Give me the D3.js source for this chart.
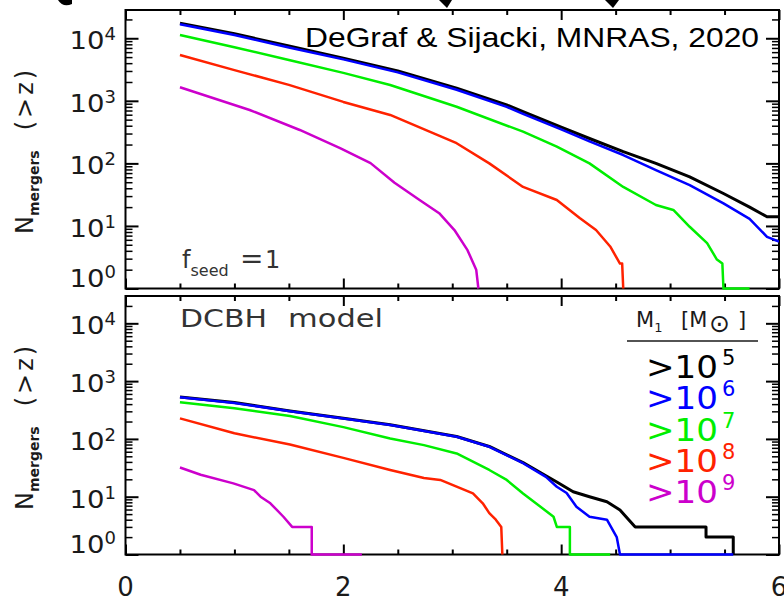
<!DOCTYPE html>
<html>
<head>
<meta charset="utf-8">
<script src="https://cdn.jsdelivr.net/npm/d3@7"></script>
<style>
body { margin: 0; background: #fff; }
svg { display: block; font-family: "DejaVu Sans", sans-serif; }
</style>
</head>
<body>
<svg id="chart" width="784" height="601"></svg>
<script>
// mass thresholds (log10 M1) and their colours
var massExp = ["5", "6", "7", "8", "9"];
var massColors = ["#000000", "#0000ff", "#00ee00", "#ff2200", "#cc00cc"];

// x axis (redshift)
var zTicksMajor = [0, 2, 4, 6];
var zTicksMinor = [0.5, 1, 1.5, 2.5, 3, 3.5, 4.5, 5, 5.5];

// top panel, f_seed = 1 : [z, N(>z)]
var topBlack = [[0.5,17400],[1.0,11800],[1.5,7500],[2.0,4800],[2.5,3000],[3.04,1590],[3.5,860],[3.65,670],[4.0,380],[4.26,250],[4.57,154],[4.87,100],[5.18,61],[5.49,33],[5.73,20],[5.89,14],[6.0,14]];
var topBlue = [[0.5,16800],[1.0,11300],[1.5,7100],[2.0,4600],[2.5,2850],[3.04,1500],[3.5,800],[3.65,620],[4.0,350],[4.26,225],[4.57,136],[4.87,78],[5.18,45],[5.49,23],[5.73,13],[5.89,6.7],[6.0,5.6]];
var topGreen = [[0.5,11300],[1.0,7200],[1.5,4500],[2.0,2800],[2.43,1790],[3.04,805],[3.65,321],[3.96,185],[4.26,100],[4.57,42],[4.87,21.6],[5.03,18],[5.18,9.7],[5.34,5.3],[5.43,2.9],[5.48,2.5],[5.49,1],[5.73,1]];
var topRed = [[0.5,5400],[1.0,3100],[1.5,1800],[2.0,960],[2.43,594],[3.04,210],[3.34,100],[3.65,42],[3.96,26],[4.17,13.4],[4.32,8.6],[4.45,4.7],[4.54,2.5],[4.56,2.5],[4.57,1]];
var topMagenta = [[0.5,1650],[1.14,714],[1.6,342],[1.97,176],[2.25,101],[2.47,49],[2.7,26],[2.88,16],[3.02,8.6],[3.14,4.1],[3.22,2.0],[3.24,1]];

// bottom panel, DCBH model
var botBlack = [[0.5,530],[1.0,425],[1.51,305],[2.0,228],[2.43,176],[3.04,110],[3.34,74],[3.65,39],[3.86,23],[3.96,18],[4.11,12.2],[4.26,10],[4.42,8.2],[4.54,5.9],[4.62,4],[4.68,3],[5.33,3],[5.33,2],[5.58,2],[5.58,1]];
var botBlue = [[0.5,525],[1.0,420],[1.51,300],[2.0,225],[2.43,174],[3.04,109],[3.34,73],[3.65,38],[3.86,22],[3.96,14.9],[4.05,11.6],[4.14,6.7],[4.26,4.5],[4.42,4],[4.51,2],[4.54,1],[5.58,1]];
var botGreen = [[0.5,430],[1.0,340],[1.51,250],[2.0,160],[2.43,102],[2.74,78],[3.04,56],[3.34,29],[3.5,19.5],[3.65,11.4],[3.81,6.7],[3.93,4.5],[3.96,3],[4.08,3],[4.08,1],[4.45,1]];
var botRed = [[0.5,227],[1.0,125],[1.51,80],[2.0,47],[2.43,29],[2.74,21],[2.89,19.5],[3.04,14.9],[3.19,11.4],[3.28,7.7],[3.34,5.2],[3.4,4],[3.45,3],[3.46,1]];
var botMagenta = [[0.5,32],[0.69,24],[0.99,17],[1.18,13],[1.24,10],[1.33,7.7],[1.45,4.5],[1.53,3],[1.71,3],[1.71,1],[2.17,1]];

var svg = d3.select("#chart");
var x = d3.scaleLinear().domain([0, 6]).range([125.5, 779]);

var panels = [
    { top: 10, bottom: 288.5, ymax: 28300, series: [topBlack, topBlue, topGreen, topRed, topMagenta], titleStart: 234 },
    { top: 296, bottom: 554.5, ymax: 29700, series: [botBlack, botBlue, botGreen, botRed, botMagenta], titleStart: 510 }
];

function tickAxis(g, axis, transform, width) {
    g.append("g")
        .attr("transform", transform)
        .call(axis.tickFormat(""))
        .call(s => s.select(".domain").remove())
        .selectAll("line").attr("stroke-width", width);
}

panels.forEach(function(p, pi) {
    var y = d3.scaleLog().domain([1, p.ymax]).range([p.bottom, p.top]);
    var g = svg.append("g");

    var all = y.ticks();
    var major = all.filter(d => Math.abs(Math.log10(d) - Math.round(Math.log10(d))) < 1e-9);
    var minor = all.filter(d => major.indexOf(d) < 0);

    g.append("rect")
        .attr("x", x(0)).attr("y", p.top)
        .attr("width", x(6) - x(0)).attr("height", p.bottom - p.top)
        .attr("fill", "none").attr("stroke", "#000").attr("stroke-width", 2);

    tickAxis(g, d3.axisLeft(y).tickValues(major).tickSize(-13), "translate(" + x(0) + ",0)", 2);
    tickAxis(g, d3.axisLeft(y).tickValues(minor).tickSize(-7), "translate(" + x(0) + ",0)", 1.5);
    tickAxis(g, d3.axisRight(y).tickValues(major).tickSize(-13), "translate(" + x(6) + ",0)", 2);
    tickAxis(g, d3.axisRight(y).tickValues(minor).tickSize(-7), "translate(" + x(6) + ",0)", 1.5);
    tickAxis(g, d3.axisBottom(x).tickValues(zTicksMajor).tickSize(-10), "translate(0," + p.bottom + ")", 2);
    tickAxis(g, d3.axisBottom(x).tickValues(zTicksMinor).tickSize(-5), "translate(0," + p.bottom + ")", 2);
    tickAxis(g, d3.axisTop(x).tickValues(zTicksMajor).tickSize(-10), "translate(0," + p.top + ")", 2);
    tickAxis(g, d3.axisTop(x).tickValues(zTicksMinor).tickSize(-5), "translate(0," + p.top + ")", 2);

    // y tick labels 10^n
    major.forEach(function(d) {
        var t = g.append("text")
            .attr("x", 116)
            .attr("y", d === 1 ? y(d) - 1.5 : y(d) + 11)
            .attr("text-anchor", "end")
            .attr("fill", "#1a1a1a")
            .attr("font-size", 25);
        t.append("tspan").attr("textLength", 35).attr("lengthAdjust", "spacingAndGlyphs").text("10");
        t.append("tspan").attr("dy", -9).attr("font-size", 18).text(Math.round(Math.log10(d)));
    });

    // y axis title
    var yt = g.append("text")
        .attr("transform", "translate(33," + p.titleStart + ") rotate(-90)")
        .attr("fill", "#1a1a1a")
        .attr("font-size", 24);
    yt.append("tspan").text("N");
    yt.append("tspan").attr("dy", 6).attr("font-size", 14).attr("font-weight", "bold").text("mergers");
    yt.append("tspan").attr("dy", -6).attr("dx", 20).attr("letter-spacing", 3).text("(>z)");

    // curves, clipped to the panel (a little below so the N=1 runs show on the axis)
    var clipId = "clip" + pi;
    svg.append("clipPath").attr("id", clipId)
        .append("rect")
        .attr("x", x(0)).attr("y", p.top)
        .attr("width", x(6) - x(0)).attr("height", p.bottom - p.top + 1.5);

    var line = d3.line().x(d => x(d[0])).y(d => y(d[1]));
    g.append("g").attr("clip-path", "url(#" + clipId + ")")
        .selectAll("path")
        .data(p.series)
        .enter()
        .append("path")
        .attr("d", line)
        .attr("fill", "none")
        .attr("stroke", (d, i) => massColors[i])
        .attr("stroke-width", (d, i) => i === 0 ? 3 : 2.5)
        .attr("stroke-linejoin", "round");
});

// x tick labels
svg.selectAll("text.xlab")
    .data(zTicksMajor)
    .enter()
    .append("text")
    .attr("class", "xlab")
    .attr("x", d => x(d))
    .attr("y", 596)
    .attr("text-anchor", "middle")
    .attr("font-size", 26)
    .attr("fill", "#1a1a1a")
    .text(d => d);

// annotations
svg.append("text")
    .attr("x", 305).attr("y", 47)
    .attr("font-family", "Liberation Sans, Arial, sans-serif")
    .attr("font-size", 28)
    .attr("textLength", 454).attr("lengthAdjust", "spacingAndGlyphs")
    .text("DeGraf & Sijacki, MNRAS, 2020");

var fs = svg.append("text").attr("x", 182).attr("y", 268).attr("font-size", 24).attr("fill", "#333");
fs.append("tspan").text("f");
fs.append("tspan").attr("dy", 8).attr("font-size", 16).text("seed");
fs.append("tspan").attr("x", 240).attr("dy", -8).attr("font-size", 28).text("=");
fs.append("tspan").attr("x", 265).attr("font-size", 24).text("1");

svg.append("text")
    .attr("x", 180).attr("y", 327)
    .attr("font-size", 25).attr("fill", "#333")
    .attr("textLength", 87).attr("lengthAdjust", "spacingAndGlyphs")
    .text("DCBH");
svg.append("text")
    .attr("x", 288).attr("y", 327)
    .attr("font-size", 25).attr("fill", "#333")
    .attr("textLength", 95).attr("lengthAdjust", "spacingAndGlyphs")
    .text("model");

// legend
var lh = svg.append("text").attr("y", 327).attr("font-size", 21).attr("fill", "#1a1a1a");
lh.append("tspan").attr("x", 636).text("M");
lh.append("tspan").attr("dy", 5).attr("font-size", 13).text("1");
lh.append("tspan").attr("x", 681).attr("dy", -5).text("[M");
lh.append("tspan").attr("x", 709).attr("dy", 5).attr("font-size", 25).text("\u2299");
lh.append("tspan").attr("x", 738).attr("dy", -5).text("]");
svg.append("line")
    .attr("x1", 627).attr("x2", 758).attr("y1", 341).attr("y2", 341)
    .attr("stroke", "#1a1a1a").attr("stroke-width", 1.5);

massExp.forEach(function(e, i) {
    var t = svg.append("text")
        .attr("x", 646).attr("y", 378 + i * 31.3)
        .attr("font-size", 32)
        .attr("fill", massColors[i]);
    t.append("tspan").attr("textLength", 72).attr("lengthAdjust", "spacingAndGlyphs").text(">10");
    t.append("tspan").attr("dy", -13).attr("dx", 4).attr("font-size", 21).text(e);
});

// cropped fragments of the title above the figure
svg.append("path").attr("d", "M58,0 Q63,8 72,4 L72,0 Z").attr("fill", "#000");
svg.append("path").attr("d", "M439,0 L452,0 L447,8 Z").attr("fill", "#000");
svg.append("path").attr("d", "M605,0 L619,0 L613,8 Z").attr("fill", "#000");
</script>
</body>
</html>
